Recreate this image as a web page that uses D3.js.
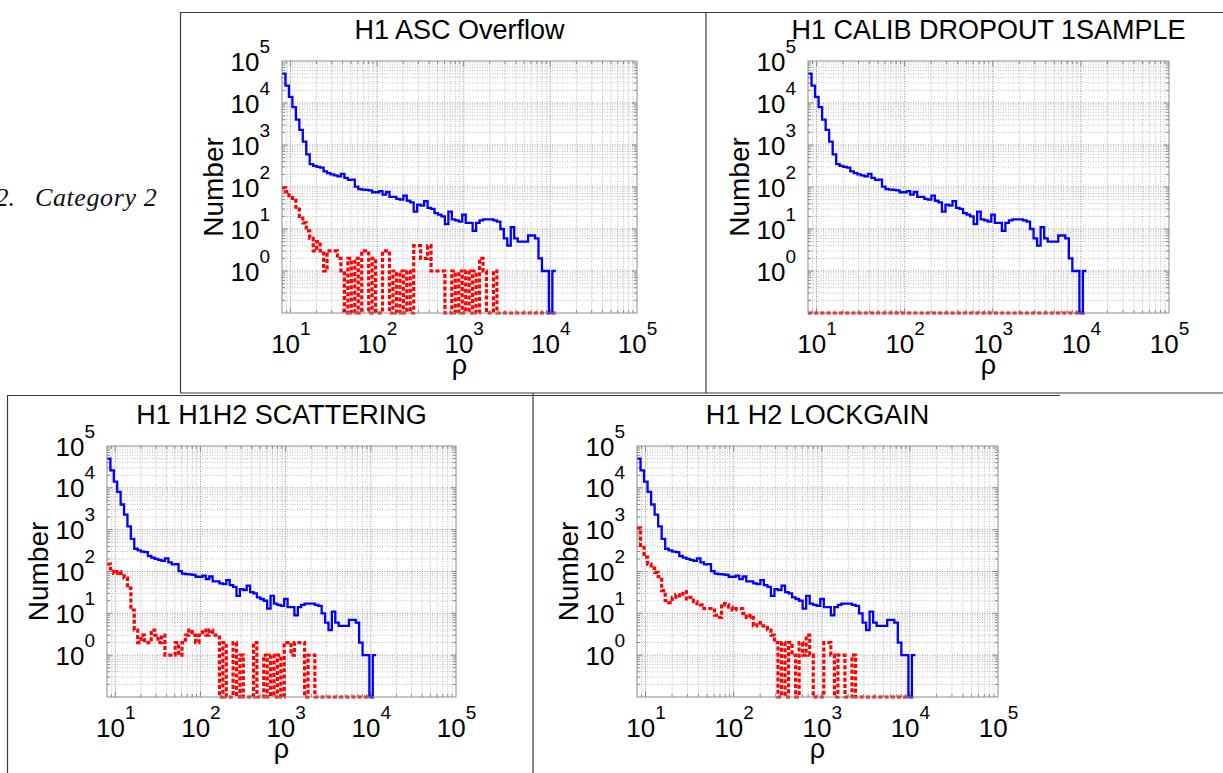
<!DOCTYPE html>
<html><head><meta charset="utf-8">
<script src="https://cdn.jsdelivr.net/npm/d3@7"></script>
<style>body{margin:0;background:#fff}svg{display:block}</style>
</head><body>
<svg id="c" width="1223" height="773"></svg>
<script>
// ---------- data ----------
const panelTitles = ["H1 ASC Overflow", "H1 CALIB DROPOUT 1SAMPLE", "H1 H1H2 SCATTERING", "H1 H2 LOCKGAIN"];
const xTickExponents = [1, 2, 3, 4, 5];
const yTickExponents = [0, 1, 2, 3, 4, 5];
const xLabel = "ρ";
const yLabel = "Number";
const sideLabelNumber = "2.";
const sideLabelText = "Category 2";
// histogram binning: log-spaced bins starting at rho = 8
const rhoMin = 8, binLogWidth = 0.04, binCount = 79;

// all triggers (blue, same in every panel)
const allTriggers = [
  50000, 26000, 14000, 8000, 4000, 2300, 1200, 600, 350, 320,
  300, 290, 235, 215, 200, 190, 180, 205, 165, 148,
  150, 102, 89, 87, 85, 83, 75, 75, 80, 66,
  76, 58, 58, 52, 50, 62, 47, 43, 26, 38,
  36, 46, 32, 30, 24, 22, 20, 13, 26, 17,
  16, 15, 22, 14, 14, 9, 14, 16, 17, 17,
  17, 16, 15, 10, 6, 4, 11, 6, 5, 5,
  5, 7, 7, 6, 2, 1, 1, 0, 1
];
// triggers vetoed by each flag (red)
const vetoAscOverflow = [
  96, 78, 62, 48, 33, 20, 14, 9, 6, 3,
  5, 3, 1, 3, 3, 3, 2, 1, 0, 2,
  0, 2, 0, 3, 3, 0, 2, 0, 0, 3,
  3, 0, 1, 0, 1, 0, 1, 0, 4, 4,
  2, 2, 4, 1, 1, 1, 1, 0, 0, 1,
  0, 1, 0, 1, 0, 1, 0, 2, 1, 0,
  0, 1, 0, 0, 0, 0, 0, 0, 0, 0,
  0, 0, 0, 0, 0, 0, 0, 0, 0
];
const vetoCalibDropout = [
  0, 0, 0, 0, 0, 0, 0, 0, 0, 0,
  0, 0, 0, 0, 0, 0, 0, 0, 0, 0,
  0, 0, 0, 0, 0, 0, 0, 0, 0, 0,
  0, 0, 0, 0, 0, 0, 0, 0, 0, 0,
  0, 0, 0, 0, 0, 0, 0, 0, 0, 0,
  0, 0, 0, 0, 0, 0, 0, 0, 0, 0,
  0, 0, 0, 0, 0, 0, 0, 0, 0, 0,
  0, 0, 0, 0, 0, 0, 0, 0, 0
];
const vetoScattering = [
  150, 115, 90, 100, 90, 70, 40, 12, 4, 2,
  3, 2, 2, 4, 3, 2, 3, 1, 1, 1,
  2, 1, 2, 3, 4, 3, 2, 3, 4, 3,
  4, 3, 3, 0, 2, 0, 0, 2, 0, 1,
  0, 0, 0, 2, 0, 0, 1, 0, 1, 0,
  1, 0, 2, 2, 1, 2, 2, 2, 0, 1,
  1, 0, 0, 0, 0, 0, 0, 0, 0, 0,
  0, 0, 0, 0, 0, 0, 0, 0, 0
];
const vetoLockgain = [
  1100, 420, 220, 150, 120, 95, 75, 35, 20, 18,
  24, 28, 26, 33, 22, 24, 19, 17, 16, 13,
  13, 12, 9, 8, 17, 16, 14, 12, 13, 13,
  10, 8, 9, 5, 6, 5, 5, 4, 3, 2,
  0, 2, 0, 2, 1, 0, 2, 1, 3, 1,
  0, 0, 0, 2, 2, 1, 0, 1, 1, 0,
  0, 1, 0, 0, 0, 0, 0, 0, 0, 0,
  0, 0, 0, 0, 0, 0, 0, 0, 0
];

// ---------- layout ----------
const FONT = "'Liberation Sans', Arial, Helvetica, sans-serif";
const panels = [
  {title: panelTitles[0], veto: vetoAscOverflow, box: {l: 282, r: 637, t: 61, b: 313}},
  {title: panelTitles[1], veto: vetoCalibDropout, box: {l: 808, r: 1169, t: 61, b: 313}},
  {title: panelTitles[2], veto: vetoScattering, box: {l: 107, r: 456, t: 446, b: 697}},
  {title: panelTitles[3], veto: vetoLockgain, box: {l: 637, r: 998, t: 446, b: 697}}
];

const svg = d3.select("#c");
svg.append("rect").attr("width", 1223).attr("height", 773).attr("fill", "#fff");

// outer frames
const frame = svg.append("g").attr("fill", "none").attr("stroke", "#3a3a3a").attr("stroke-width", 1.2);
frame.append("path").attr("d", "M180.5,393 V12.5 H1223");
frame.append("path").attr("d", "M706,12.5 V393");
frame.append("path").attr("d", "M180,393 H1223");
frame.append("path").attr("d", "M7.5,773 V395.5 H1060");
frame.append("path").attr("d", "M533,393 V773");

// side label
const sideFont = "'Liberation Serif', 'DejaVu Serif', serif";
svg.append("text").attr("x", 15).attr("y", 206).attr("text-anchor", "end")
  .attr("font-family", sideFont).attr("font-style", "italic")
  .attr("font-size", 26).attr("fill", "#111").text(sideLabelNumber);
svg.append("text").attr("x", 35).attr("y", 206)
  .attr("font-family", sideFont).attr("font-style", "italic")
  .attr("font-size", 26).attr("letter-spacing", 0.6).attr("fill", "#111").text(sideLabelText);

const edges = d3.range(binCount + 1).map(i => rhoMin * Math.pow(10, i * binLogWidth));

function stairsData(vals) {
  const pts = vals.map((v, i) => [edges[i], v]);
  pts.push([edges[binCount], vals[binCount - 1]]);
  return pts;
}

function drawPanel(p) {
  const {l, r, t, b} = p.box;
  const x = d3.scaleLog().domain([rhoMin, 1e5]).range([l, r]);
  const y = d3.scaleLog().domain([0.1, 1e5]).range([b, t]).clamp(true);
  const g = svg.append("g");

  // grid values
  const xMinor = [], yMinor = [];
  for (let e = 0; e <= 4; e++) for (let m = 2; m <= 9; m++) {
    const v = m * Math.pow(10, e);
    if (v > rhoMin + 1e-9 && v < 1e5) xMinor.push(v);
  }
  for (let e = -1; e <= 4; e++) for (let m = 2; m <= 9; m++) yMinor.push(m * Math.pow(10, e));
  const xMajor = [10, 100, 1000, 10000];
  const yMajor = [1, 10, 100, 1000, 10000];

  const grid = g.append("g").attr("fill", "none");
  grid.selectAll(".xm").data(xMinor).join("line")
    .attr("x1", d => x(d)).attr("x2", d => x(d)).attr("y1", t).attr("y2", b)
    .attr("stroke", "#bdbdbd").attr("stroke-width", 1).attr("stroke-dasharray", "1,1.5");
  grid.selectAll(".ym").data(yMinor).join("line")
    .attr("y1", d => y(d)).attr("y2", d => y(d)).attr("x1", l).attr("x2", r)
    .attr("stroke", "#bdbdbd").attr("stroke-width", 1).attr("stroke-dasharray", "1,1.5");
  grid.selectAll(".xM").data(xMajor).join("line")
    .attr("x1", d => x(d)).attr("x2", d => x(d)).attr("y1", t).attr("y2", b)
    .attr("stroke", "#8e8e8e").attr("stroke-width", 1).attr("stroke-dasharray", "1,1.5");
  grid.selectAll(".yM").data(yMajor).join("line")
    .attr("y1", d => y(d)).attr("y2", d => y(d)).attr("x1", l).attr("x2", r)
    .attr("stroke", "#8e8e8e").attr("stroke-width", 1).attr("stroke-dasharray", "1,1.5");

  // inner ticks (all four sides)
  const tk = g.append("g").attr("stroke", "#888").attr("stroke-width", 1);
  [...xMinor.map(v => [v, 3]), ...xMajor.map(v => [v, 5])].forEach(([v, s]) => {
    tk.append("line").attr("x1", x(v)).attr("x2", x(v)).attr("y1", b).attr("y2", b - s);
    tk.append("line").attr("x1", x(v)).attr("x2", x(v)).attr("y1", t).attr("y2", t + s);
  });
  [...yMinor.map(v => [v, 3]), ...yMajor.map(v => [v, 5])].forEach(([v, s]) => {
    tk.append("line").attr("y1", y(v)).attr("y2", y(v)).attr("x1", l).attr("x2", l + s);
    tk.append("line").attr("y1", y(v)).attr("y2", y(v)).attr("x1", r).attr("x2", r - s);
  });

  // axes (labels only; box drawn separately)
  const xAx = g.append("g").attr("transform", `translate(0,${b})`)
    .call(d3.axisBottom(x).tickValues(xTickExponents.map(e => Math.pow(10, e))).tickSize(0).tickFormat(() => ""));
  xAx.select(".domain").remove();
  xAx.selectAll(".tick text").each(function(d) {
    const s = d3.select(this).attr("y", 40).attr("dy", null)
      .attr("font-family", FONT).attr("font-size", 26).attr("fill", "#000").attr("text-anchor", "middle");
    s.text(null);
    s.append("tspan").text("10");
    s.append("tspan").attr("dy", -18).attr("font-size", 19).text(Math.round(Math.log10(d)));
  });

  const yAx = g.append("g").attr("transform", `translate(${l},0)`)
    .call(d3.axisLeft(y).tickValues(yTickExponents.map(e => Math.pow(10, e))).tickSize(0).tickFormat(() => ""));
  yAx.select(".domain").remove();
  yAx.selectAll(".tick text").each(function(d) {
    const s = d3.select(this).attr("x", -12).attr("dy", 9)
      .attr("font-family", FONT).attr("font-size", 26).attr("fill", "#000").attr("text-anchor", "end");
    s.text(null);
    s.append("tspan").text("10");
    s.append("tspan").attr("dy", -18).attr("font-size", 19).text(Math.round(Math.log10(d)));
  });

  // data
  const line = d3.line()
    .x(d => x(d[0]))
    .y(d => y(Math.max(d[1], 0.1)))
    .curve(d3.curveStepAfter);
  g.append("path").attr("d", line(stairsData(p.veto)))
    .attr("fill", "none").attr("stroke", "#ff0000").attr("stroke-width", 3.2)
    .attr("stroke-dasharray", "4,2.2");
  g.append("path").attr("d", line(stairsData(allTriggers)))
    .attr("fill", "none").attr("stroke", "#0000ff").attr("stroke-width", 2.3)
    .attr("stroke-linejoin", "miter");

  // plot box
  g.append("rect").attr("x", l).attr("y", t).attr("width", r - l).attr("height", b - t)
    .attr("fill", "none").attr("stroke", "#8c8c8c").attr("stroke-width", 1);

  // titles
  g.append("text").attr("x", (l + r) / 2).attr("y", t - 22).attr("text-anchor", "middle")
    .attr("font-family", FONT).attr("font-size", 27).text(p.title);
  g.append("text").attr("x", (l + r) / 2).attr("y", b + 61).attr("text-anchor", "middle")
    .attr("font-family", FONT).attr("font-size", 27).text(xLabel);
  g.append("text").attr("transform", `translate(${l - 59},${(t + b) / 2}) rotate(-90)`)
    .attr("text-anchor", "middle").attr("font-family", FONT).attr("font-size", 28).text(yLabel);
}

panels.forEach(drawPanel);
</script>
</body></html>
